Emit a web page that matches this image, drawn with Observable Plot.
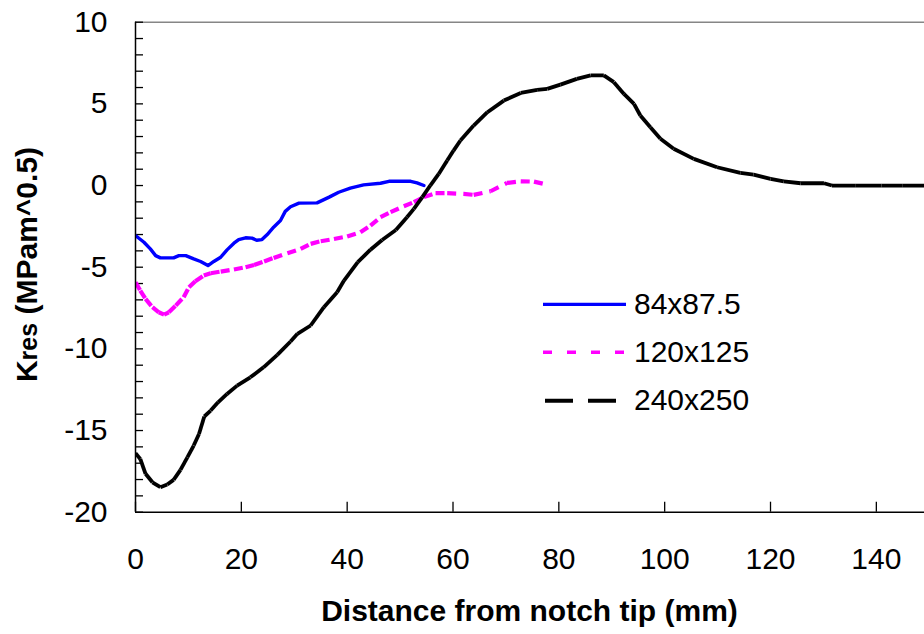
<!DOCTYPE html>
<html><head><meta charset="utf-8">
<script src="https://cdn.jsdelivr.net/npm/d3@7"></script>
<script src="https://cdn.jsdelivr.net/npm/@observablehq/plot@0.6"></script>
<style>html,body{margin:0;padding:0;background:#fff;} #chart{width:924px;height:634px;overflow:hidden;position:relative}</style>
</head><body><div id="chart"></div>
<script>
// ---- data ----
const seriesNames = ["84x87.5", "120x125", "240x250"];
const seriesColors = ["#0000FF", "#FF00FF", "#000000"];

const blueX = [0, 1.6, 2.8, 3.8, 4.7, 7.2, 8.2, 9.5, 11.0, 12.3, 13.7, 14.8, 16.1, 17.3, 18.6, 19.5, 20.8, 22.0, 22.9, 23.9, 24.9, 26.1, 27.4, 28.3, 29.3, 30.9, 34.3, 36.6, 38.4, 40.6, 43.1, 46.3, 47.9, 52.0, 53.2, 54.5];
const blueY = [-3.06, -3.47, -3.88, -4.29, -4.43, -4.43, -4.29, -4.29, -4.49, -4.65, -4.90, -4.65, -4.39, -3.94, -3.53, -3.31, -3.20, -3.22, -3.35, -3.31, -3.00, -2.55, -2.14, -1.58, -1.30, -1.08, -1.06, -0.71, -0.41, -0.16, 0.04, 0.14, 0.26, 0.26, 0.16, 0.0];

const magentaX = [0, 0.9, 1.9, 3.2, 4.4, 5.4, 6.3, 7.6, 9.1, 10.1, 11.3, 12.9, 14.2, 16.1, 18.6, 20.8, 22.4, 24.3, 26.1, 28.7, 31.2, 33.1, 35.0, 37.5, 40.0, 42.5, 44.4, 46.3, 48.2, 50.7, 52.6, 54.5, 56.7, 58.9, 62.0, 63.9, 67.1, 70.2, 72.8, 75.3, 77.2];
const magentaY = [-5.92, -6.43, -6.94, -7.45, -7.76, -7.90, -7.76, -7.35, -6.84, -6.23, -5.86, -5.51, -5.37, -5.27, -5.14, -5.0, -4.86, -4.65, -4.43, -4.14, -3.88, -3.57, -3.41, -3.27, -3.12, -2.86, -2.45, -1.94, -1.63, -1.27, -1.02, -0.71, -0.47, -0.47, -0.51, -0.57, -0.35, 0.16, 0.26, 0.24, 0.10];

const blackX = [0, 0.9, 1.9, 3.2, 4.7, 6.0, 7.2, 8.5, 9.8, 11.0, 12.0, 13.0, 14.2, 15.6, 17.3, 19.2, 21.7, 24.2, 26.8, 29.3, 30.6, 33.1, 35.6, 38.1, 39.4, 42.0, 44.4, 46.6, 49.2, 51.3, 52.6, 54.2, 55.7, 57.3, 58.9, 60.1, 61.4, 63.9, 66.5, 69.6, 72.8, 75.9, 77.8, 80.3, 83.4, 86.0, 88.5, 90.4, 92.3, 94.2, 95.4, 97.3, 99.2, 101.7, 105.5, 109.9, 114.3, 116.8, 120.0, 122.5, 125.7, 130.1, 131.6, 136, 141, 145, 149.1];
const blackY = [-16.39, -16.74, -17.65, -18.17, -18.47, -18.31, -18.02, -17.41, -16.64, -15.92, -15.21, -14.14, -13.78, -13.27, -12.76, -12.25, -11.74, -11.13, -10.37, -9.55, -9.08, -8.57, -7.45, -6.53, -5.82, -4.69, -3.93, -3.33, -2.72, -1.94, -1.43, -0.71, 0.0, 0.71, 1.53, 2.14, 2.76, 3.67, 4.49, 5.20, 5.67, 5.86, 5.92, 6.18, 6.53, 6.74, 6.74, 6.33, 5.61, 5.0, 4.29, 3.57, 2.86, 2.25, 1.63, 1.12, 0.78, 0.67, 0.41, 0.26, 0.14, 0.14, 0, 0, 0, 0, 0];

const xTicks = [0, 20, 40, 60, 80, 100, 120, 140];
const yTicks = [-20, -15, -10, -5, 0, 5, 10];
const yMinorTicks = d3.range(-20, 11, 1);

const xLabel = "Distance from notch tip (mm)";
const yLabelMain = "K", yLabelSub = "res", yLabelRest = " (MPam^0.5)";

// ---- layout ----
const W = 924, H = 634;
const mL = 135, mR = 0, mT = 21.7, mB = 122.3;
const innerW = W - mL - mR, innerH = H - mT - mB;

const pts = (xs, ys) => xs.map((x, i) => ({x, y: ys[i]}));
const segs = (xs, ys) => xs.slice(1).map((_, i) => ({x1: xs[i], y1: ys[i], x2: xs[i + 1], y2: ys[i + 1]}));

const plot = Plot.plot({
  width: W, height: H,
  marginLeft: mL, marginRight: mR, marginTop: mT, marginBottom: mB,
  style: {fontFamily: "'Liberation Sans', Arial, sans-serif", fontSize: "30px", background: "#fff", color: "#000"},
  x: {domain: [0, 149.1]},
  y: {domain: [-20, 10]},
  marks: [
    Plot.ruleY([10], {stroke: "#868686", strokeWidth: 1.4}),
    Plot.ruleY(yMinorTicks, {stroke: "#000", strokeWidth: 1.3, insetRight: innerW - 8}),
    Plot.ruleX(xTicks, {stroke: "#000", strokeWidth: 1.3, insetTop: innerH - 10}),
    Plot.line(pts(blueX, blueY), {x: "x", y: "y", stroke: seriesColors[0], strokeWidth: 3.4, strokeLinejoin: "round", clip: true}),
    Plot.link(segs(magentaX, magentaY), {x1: "x1", y1: "y1", x2: "x2", y2: "y2", stroke: seriesColors[1], strokeWidth: 4.2, strokeDasharray: "9,7", clip: true}),
    Plot.link(segs(blackX, blackY), {x1: "x1", y1: "y1", x2: "x2", y2: "y2", stroke: seriesColors[2], strokeWidth: 3.8, strokeDasharray: "28,15", clip: true}),
    Plot.ruleX([0], {stroke: "#000", strokeWidth: 1.5}),
    Plot.ruleY([-20], {stroke: "#000", strokeWidth: 1.5}),
    Plot.axisX({ticks: xTicks, tickSize: 0, tickPadding: 35, tickFormat: d => String(d), label: null}),
    Plot.axisY({ticks: yTicks, tickSize: 0, tickPadding: 28, tickFormat: d => String(d), label: null})
  ]
});

const svg = d3.select(plot);
// x label
svg.append("text")
  .attr("x", mL + innerW / 2).attr("y", 621)
  .attr("text-anchor", "middle").attr("font-weight", "bold").attr("font-size", 30)
  .text(xLabel);
// y label
const yl = svg.append("text")
  .attr("transform", "translate(37,264.5) rotate(-90)")
  .attr("text-anchor", "middle").attr("font-weight", "bold").attr("font-size", 30)
  .style("white-space", "pre");
yl.append("tspan").text(yLabelMain);
yl.append("tspan").attr("font-size", 25).text(yLabelSub);
yl.append("tspan").text(yLabelRest);

// legend
const legRows = [304.3, 352.3, 400.7];
const legDash = [null, "9,15", "28,15"];
const legX1 = [543, 543, 545];
const legX2 = [626, 626, 617];
const legW = [3.3, 3.5, 4];
seriesNames.forEach((name, i) => {
  const ln = svg.append("line")
    .attr("x1", legX1[i]).attr("x2", legX2[i])
    .attr("y1", legRows[i]).attr("y2", legRows[i])
    .attr("stroke", seriesColors[i]).attr("stroke-width", legW[i]);
  if (legDash[i]) ln.attr("stroke-dasharray", legDash[i]);
  svg.append("text")
    .attr("x", 634).attr("y", legRows[i] + 9.5)
    .attr("text-anchor", "start")
    .attr("font-size", 30).attr("fill", "#000")
    .text(name);
});

document.getElementById("chart").appendChild(plot);
</script>
</body></html>
